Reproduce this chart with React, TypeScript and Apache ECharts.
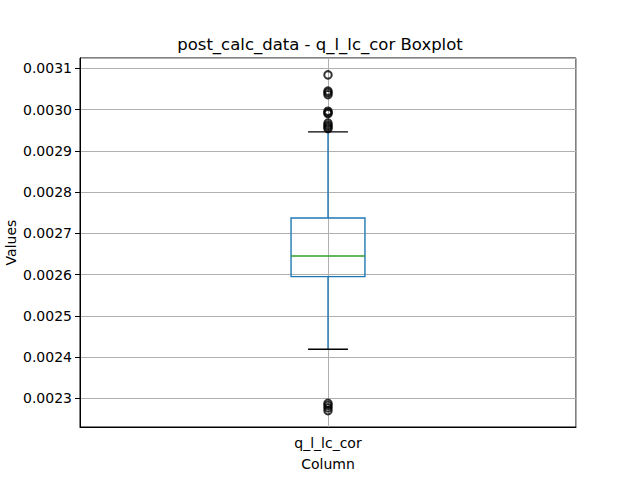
import { useEffect, useRef } from "react";
import * as echarts from "echarts";

const categories = ["q_l_lc_cor"];
// lower whisker, Q1, median, Q3, upper whisker
const boxStats = [0.002419, 0.002595, 0.002645, 0.002737, 0.002946];
const outliers = [
  0.003084, 0.003045, 0.003041, 0.003036, 0.002996, 0.002993, 0.00299,
  0.002967, 0.002962, 0.002958, 0.002954, 0.002288, 0.002283, 0.002277,
  0.00227,
];
const yMin = 0.0022304;
const yMax = 0.003125;

const FONT = "DejaVu Sans";

export default function App() {
  const chartRef = useRef<HTMLDivElement>(null);

  useEffect(() => {
    if (!chartRef.current) return;
    const chart = echarts.init(chartRef.current, undefined, { renderer: "svg" });

    const option: any = {
      animation: false,
      backgroundColor: "#fff",
      textStyle: { fontFamily: FONT },
      title: {
        text: "post_calc_data - q_l_lc_cor Boxplot",
        left: "center",
        top: 31,
        textStyle: { fontFamily: FONT, fontSize: 16.5, fontWeight: "normal", color: "#000" },
      },
      grid: {
        left: 80,
        right: 64,
        top: 58,
        bottom: 53,
        outerBoundsMode: "none",
        containLabel: false,
        show: true,
        borderColor: "#000",
        borderWidth: 1,
        backgroundColor: "transparent",
      },
      xAxis: [
        {
          type: "category",
          data: categories,
          name: "Column",
          nameLocation: "middle",
          nameGap: 30,
          nameMoveOverlap: false,
          nameTextStyle: { fontFamily: FONT, fontSize: 14, color: "#000" },
          axisLine: { lineStyle: { color: "#000", width: 1 } },
          axisTick: { alignWithLabel: true, length: 5, lineStyle: { color: "#000" } },
          axisLabel: { fontFamily: FONT, fontSize: 14, color: "#000", margin: 9 },
          splitLine: { show: false },
        },
        {
          type: "value",
          min: 0,
          max: 2,
          interval: 1,
          position: "bottom",
          axisLine: { show: false },
          axisTick: { show: false },
          axisLabel: { show: false },
          splitLine: { show: true, lineStyle: { color: "#b0b0b0", width: 1 } },
        },
      ],
      yAxis: {
        type: "value",
        min: yMin,
        max: yMax,
        splitNumber: 9,
        name: "Values",
        nameLocation: "middle",
        nameGap: 62,
        nameMoveOverlap: false,
        nameTextStyle: { fontFamily: FONT, fontSize: 14, color: "#000" },
        axisLine: { show: true, lineStyle: { color: "#000", width: 1 } },
        axisTick: { show: true, length: 5, lineStyle: { color: "#000" } },
        axisLabel: {
          fontFamily: FONT,
          fontSize: 14,
          color: "#000",
          margin: 8,
          showMinLabel: false,
          showMaxLabel: false,
          formatter: (v: number) => v.toFixed(4),
        },
        splitLine: { show: true, lineStyle: { color: "#b0b0b0", width: 1 } },
      },
      series: [
        {
          type: "custom",
          xAxisIndex: 0,
          data: [[0, ...boxStats]],
          renderItem: (_params: any, api: any) => {
            const x = api.value(0);
            const band = api.size([1, 0])[0];
            const boxW = band * 0.149;
            const capW = boxW * 0.54;
            const pLow = api.coord([x, api.value(1)]);
            const pQ1 = api.coord([x, api.value(2)]);
            const pMed = api.coord([x, api.value(3)]);
            const pQ3 = api.coord([x, api.value(4)]);
            const pHigh = api.coord([x, api.value(5)]);
            const cx = pQ1[0];
            const blue = { stroke: "#1f77b4", lineWidth: 1.4 };
            return {
              type: "group",
              children: [
                {
                  type: "line",
                  shape: { x1: cx, y1: pQ3[1], x2: cx, y2: pHigh[1] },
                  style: blue,
                },
                {
                  type: "line",
                  shape: { x1: cx, y1: pQ1[1], x2: cx, y2: pLow[1] },
                  style: blue,
                },
                {
                  type: "rect",
                  shape: { x: cx - boxW / 2, y: pQ3[1], width: boxW, height: pQ1[1] - pQ3[1] },
                  style: { ...blue, fill: "none" },
                },
                {
                  type: "line",
                  shape: { x1: cx - boxW / 2, y1: pMed[1], x2: cx + boxW / 2, y2: pMed[1] },
                  style: { stroke: "#2ca02c", lineWidth: 1.4 },
                },
                {
                  type: "line",
                  shape: { x1: cx - capW / 2, y1: pHigh[1], x2: cx + capW / 2, y2: pHigh[1] },
                  style: { stroke: "#000", lineWidth: 1.4 },
                },
                {
                  type: "line",
                  shape: { x1: cx - capW / 2, y1: pLow[1], x2: cx + capW / 2, y2: pLow[1] },
                  style: { stroke: "#000", lineWidth: 1.4 },
                },
              ],
            };
          },
        },
        {
          type: "scatter",
          xAxisIndex: 0,
          data: outliers.map((v) => [0, v]),
          symbol: "circle",
          symbolSize: 7.5,
          itemStyle: { color: "rgba(0,0,0,0)", borderColor: "#000", borderWidth: 2 },
        },
      ],
    };

    chart.setOption(option);
    return () => {
      chart.dispose();
    };
  }, []);

  return (
    <div
      ref={chartRef}
      style={{ position: "fixed", left: 0, top: 0, width: 640, height: 480 }}
    />
  );
}
